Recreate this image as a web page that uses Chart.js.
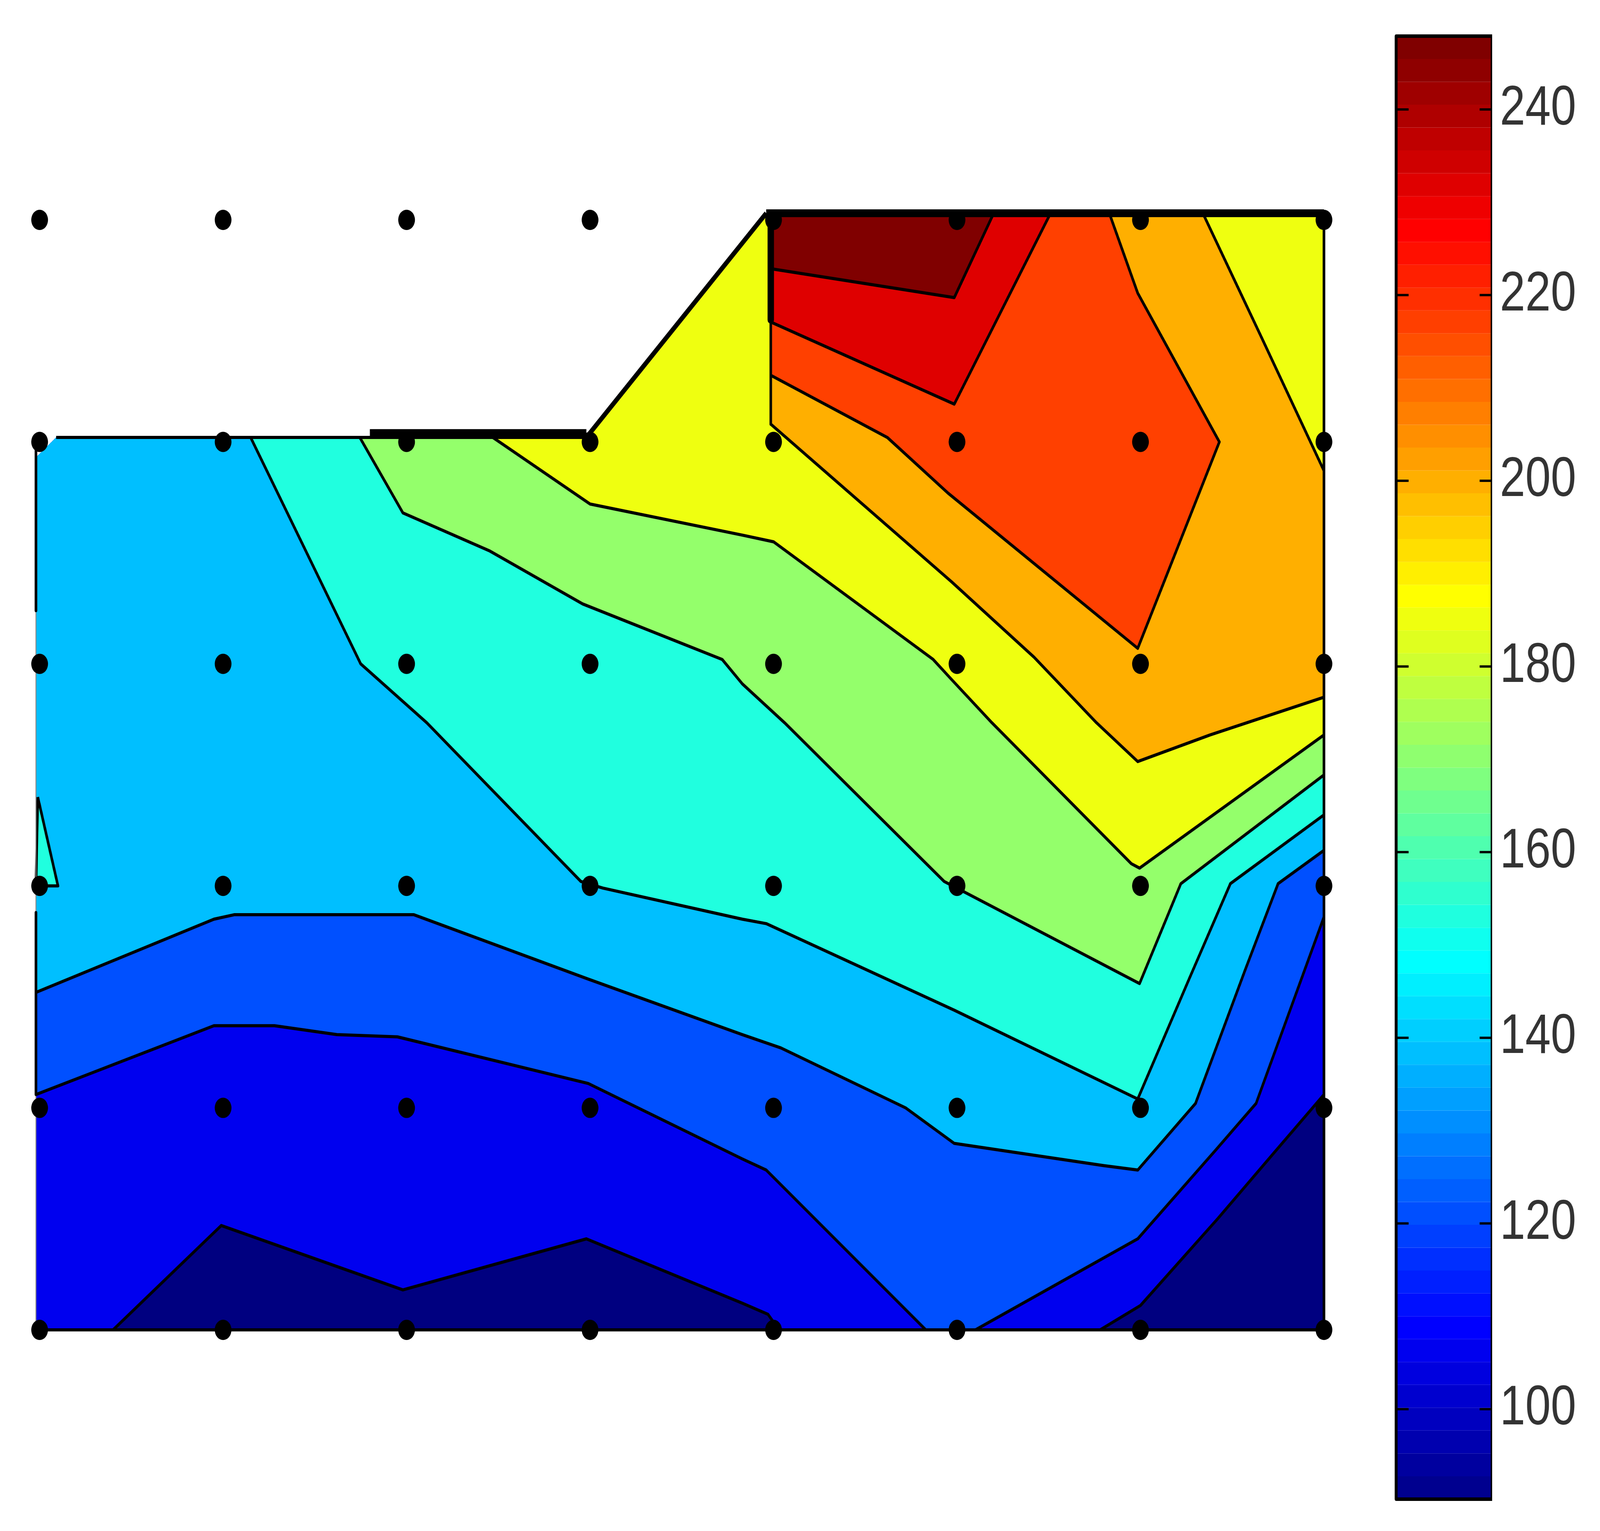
<!DOCTYPE html>
<html>
<head>
<meta charset="utf-8">
<title>Contour plot</title>
<script src="https://cdn.jsdelivr.net/npm/chart.js@4/dist/chart.umd.min.js"></script>
<style>
    html, body { margin: 0; padding: 0; background: #fff; overflow: hidden; }
    canvas { display: block; transform-origin: 0 0; }
</style>
</head>
<body>
<canvas id="contourChart" width="4968" height="3920"></canvas>
<script>
// measurement grid
const gridX = [1, 2, 3, 4, 5, 6, 7, 8];
const gridY = [1, 2, 3, 4, 5, 6];

// contour lines in grid units
const line95a = [[1.40, 1], [1.99, 1.47], [2.98, 1.18], [3.98, 1.41], [4.83, 1.12], [4.97, 1.07], [5.03, 1]];
const line95b = [[6.78, 1], [7.0, 1.11], [7.42, 1.50], [7.72, 1.79], [8, 2.06]];
const line110a = [[0.98, 2.06], [1.95, 2.37], [2.28, 2.37], [2.62, 2.33], [2.95, 2.32], [3.99, 2.11], [4.83, 1.77], [4.96, 1.72], [5.83, 1]];
const line110b = [[6.10, 1], [6.985, 1.41], [7.41, 1.81], [7.63, 2.02], [8, 2.86]];
const line125 = [[0.98, 2.52], [1.95, 2.85], [2.06, 2.87], [3.04, 2.87], [3.99, 2.58], [4.83, 2.33], [5.04, 2.27], [5.72, 2.0], [5.985, 1.84], [6.80, 1.74], [6.985, 1.72], [7.30, 2.02], [7.57, 2.62], [7.75, 3.01], [8, 3.16]];
const line140 = [[2.15, 5.02], [2.75, 4.0], [3.11, 3.735], [3.95, 3.02], [4.07, 2.99], [4.83, 2.85], [4.96, 2.83], [5.985, 2.44], [6.985, 2.04], [7.27, 2.59], [7.49, 3.01], [8, 3.32]];
const line155 = [[2.745, 5.02], [2.98, 4.68], [3.45, 4.51], [3.96, 4.27], [4.72, 4.02], [4.83, 3.91], [5.06, 3.735], [5.93, 3.02], [6.995, 2.56], [7.22, 3.01], [8, 3.50]];
const line170 = [[3.47, 5.02], [4.0, 4.72], [4.83, 4.58], [5.0, 4.55], [5.87, 4.02], [5.97, 3.93], [6.19, 3.735], [6.95, 3.10], [6.995, 3.08], [8, 3.68]];
const line185a = [[4.985, 5.08], [5.97, 4.37], [6.42, 4.03], [6.76, 3.735], [6.985, 3.56], [7.38, 3.68], [8, 3.85]];
const line185b = [[8, 4.87], [7.66, 5.47], [7.34, 6.03]];
const line200 = [[4.985, 5.30], [5.62, 5.02], [5.95, 4.77], [6.985, 4.07], [7.43, 5.0], [6.985, 5.67], [6.83, 6.03]];
const line215 = [[4.985, 5.54], [5.985, 5.17], [6.51, 6.03]];
const line230 = [[4.985, 5.78], [5.985, 5.65], [6.20, 6.03]];
const islet = [[0.99, 3.40], [1.10, 3.0], [0.98, 3.0]];

// outline of the data region
const outerClose = [[8, 6.03], [4.96, 6.03], [3.98, 5.02], [1.09, 5.02], [0.98, 4.93]];
const upperClose = [[8, 6.03], [4.96, 6.03], [3.98, 5.02]];

// filled regions, lowest level first
const regionColors = ['#000080', '#0000ef', '#0050ff', '#00bfff', '#20ffdf', '#94ff6b', '#efff10', '#ffaf00', '#ff4000', '#df0000', '#800000'];
const regions = [
    [[0.98, 1], [8, 1], ...outerClose],
    [[0.98, 1], ...line95a, ...line95b, ...outerClose],
    [...line110a, ...line110b, ...outerClose],
    [...line125, ...outerClose],
    [...line140, ...upperClose],
    [...line155, ...upperClose],
    [...line170, ...upperClose],
    [...line185a, ...line185b, [4.985, 6.03]],
    [...line200, [4.985, 6.03]],
    [...line215, [4.985, 6.03]],
    [...line230, [4.985, 6.03]]
];
const contourLines = [line95a, line95b, line110a, line110b, line125, line140, line155, line170, line185a, line185b, line200, line215, line230, [...islet, islet[0]]];

// black edges of the region
const thinEdges = [
    [[0.98, 1], [8, 1]],
    [[8, 1], [8, 6.03]],
    [[1.09, 5.02], [3.98, 5.02]],
    [[0.98, 5.02], [0.98, 4.24]],
    [[0.98, 2.88], [0.98, 2.06]],
    [[4.985, 5.55], [4.985, 5.08]]
];
const slantEdge = [[3.98, 5.02], [4.96, 6.03]];
const thickEdges = [
    [[4.96, 6.03], [8, 6.03]],
    [[2.8, 5.04], [3.98, 5.04]],
    [[4.985, 6.03], [4.985, 5.55]]
];
const faintEdges = [
    [[0.98, 4.24], [0.98, 2.88]],
    [[0.98, 2.06], [0.98, 1]]
];

// colorbar
const colorbarTicks = [100, 120, 140, 160, 180, 200, 220, 240];
const colorbarEdges = [90.3, 92.76, 95.23, 97.69, 100.15, 102.61, 105.08, 107.54, 110.0, 112.46, 114.93, 117.39, 119.85, 122.31, 124.78, 127.24, 129.7, 132.16, 134.63, 137.09, 139.55, 142.01, 144.48, 146.94, 149.4, 151.86, 154.33, 156.79, 159.25, 161.71, 164.18, 166.64, 169.1, 171.56, 174.03, 176.49, 178.95, 181.41, 183.88, 186.34, 188.8, 191.26, 193.73, 196.19, 198.65, 201.11, 203.58, 206.04, 208.5, 210.96, 213.43, 215.89, 218.35, 220.81, 223.28, 225.74, 228.2, 230.66, 233.13, 235.59, 238.05, 240.51, 242.98, 245.44, 247.9];
const colorbarColors = [
    '#00008f', '#00009f', '#0000af', '#0000bf', '#0000cf', '#0000df', '#0000ef', '#0000ff',
    '#000fff', '#001fff', '#002fff', '#003fff', '#004fff', '#005fff', '#006fff', '#007fff',
    '#008fff', '#009fff', '#00afff', '#00bfff', '#00cfff', '#00dfff', '#00efff', '#00ffff',
    '#0fffef', '#1fffdf', '#2fffcf', '#3fffbf', '#4fffaf', '#5fff9f', '#6fff8f', '#7fff7f',
    '#8fff6f', '#9fff5f', '#afff4f', '#bfff3f', '#cfff2f', '#dfff1f', '#efff0f', '#ffff00',
    '#ffef00', '#ffdf00', '#ffcf00', '#ffbf00', '#ffaf00', '#ff9f00', '#ff8f00', '#ff7f00',
    '#ff6f00', '#ff5f00', '#ff4f00', '#ff3f00', '#ff2f00', '#ff1f00', '#ff0f00', '#ff0000',
    '#ef0000', '#df0000', '#cf0000', '#bf0000', '#af0000', '#9f0000', '#8f0000', '#800000'
];

Chart.defaults.font.family = '"Liberation Sans", Arial, sans-serif';

function toPoints(list) {
    return list.map(([x, y]) => ({ x, y }));
}

function fillDataset(list, color, bar) {
    const dataset = {
        data: toPoints([...list, list[0]]),
        showLine: true,
        fill: 'shape',
        backgroundColor: color,
        borderWidth: 0,
        pointRadius: 0,
        tension: 0
    };
    if (bar) {
        dataset.xAxisID = 'xBar';
        dataset.yAxisID = 'yBar';
    }
    return dataset;
}

function lineDataset(list, width, color, bar) {
    const dataset = {
        data: toPoints(list),
        showLine: true,
        fill: false,
        borderColor: color,
        borderWidth: width,
        borderJoinStyle: 'round',
        pointRadius: 0,
        tension: 0
    };
    if (bar) {
        dataset.xAxisID = 'xBar';
        dataset.yAxisID = 'yBar';
    }
    return dataset;
}

function hiddenAxis(min, max) {
    return { type: 'linear', display: false, min, max };
}

// painted in this order, so each level covers the one below
const datasets = [];
regions.forEach((region, i) => datasets.push(fillDataset(region, regionColors[i])));
datasets.push(fillDataset(islet, regionColors[4]));
contourLines.forEach(l => datasets.push(lineDataset(l, 8, '#000')));
faintEdges.forEach(l => datasets.push(lineDataset(l, 3, '#888')));
thinEdges.forEach(l => datasets.push(lineDataset(l, 8, '#000')));
datasets.push(lineDataset(slantEdge, 13, '#000'));
thickEdges.forEach(l => datasets.push(lineDataset(l, 20, '#000')));

const gridPoints = [];
for (const y of gridY) {
    for (const x of gridX) {
        gridPoints.push({ x, y });
    }
}
datasets.push({
    data: gridPoints,
    showLine: false,
    pointRadius: 26,
    pointBackgroundColor: '#000',
    pointBorderWidth: 0
});

colorbarColors.forEach((color, i) => {
    const lo = colorbarEdges[i];
    const hi = colorbarEdges[i + 1];
    datasets.push(fillDataset([[0, lo], [1, lo], [1, hi], [0, hi]], color, true));
});
colorbarTicks.forEach(t => {
    datasets.push(lineDataset([[0, t], [0.13, t]], 6, '#000', true));
    datasets.push(lineDataset([[0.87, t], [1, t]], 6, '#000', true));
});
const barMin = colorbarEdges[0];
const barMax = colorbarEdges[colorbarEdges.length - 1];
datasets.push(lineDataset([[0, barMin], [1, barMin], [1, barMax], [0, barMax], [0, barMin]], 9, '#000', true));

const canvas = document.getElementById('contourChart');

new Chart(canvas, {
    type: 'scatter',
    data: { datasets: datasets.reverse() },
    options: {
        responsive: false,
        animation: false,
        devicePixelRatio: 1,
        events: [],
        layout: { padding: 0, autoPadding: false },
        plugins: { legend: { display: false }, tooltip: { enabled: false } },
        scales: {
            x: hiddenAxis(0.7841, 8.9165),
            y: hiddenAxis(0.094, 6.9905),
            xBar: hiddenAxis(-14.547, 1),
            yBar: {
                type: 'linear',
                position: 'right',
                min: 86.87,
                max: 251.79,
                afterBuildTicks: axis => { axis.ticks = colorbarTicks.map(value => ({ value })); },
                afterFit: axis => {
                    axis.width = 335;
                    axis.paddingTop = 0;
                    axis.paddingBottom = 0;
                },
                grid: { display: false, drawTicks: false },
                border: { display: false },
                ticks: {
                    padding: 24,
                    color: '#333',
                    font: { size: 142 },
                    align: 'center',
                    crossAlign: 'near'
                }
            }
        }
    }
});

// the browser may give a narrower window than the picture, so fit the canvas to it
canvas.style.transform = `scale(${window.innerWidth / canvas.width}, ${window.innerHeight / canvas.height})`;
</script>
</body>
</html>
